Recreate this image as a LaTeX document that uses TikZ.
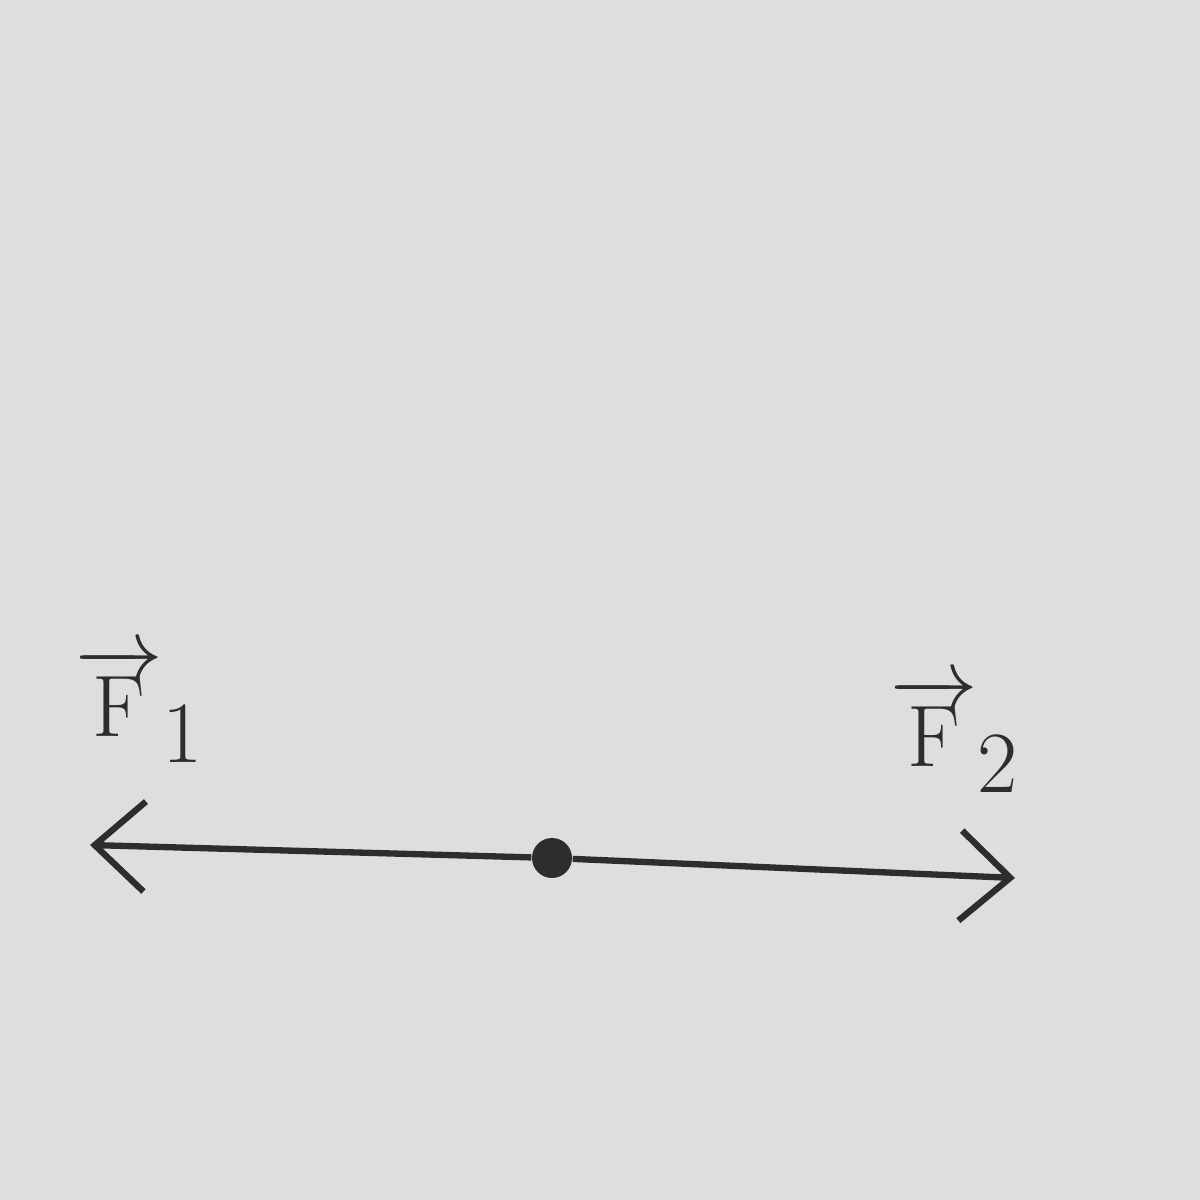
\documentclass[tikz,border=0pt]{standalone}
\usetikzlibrary{arrows.meta}
\definecolor{paper}{RGB}{222,222,220}
\definecolor{pencil}{RGB}{45,45,45}
\begin{document}
\begin{tikzpicture}[x=1cm,y=1cm,
  force/.style={draw=pencil,line width=1.8pt,-{Straight Barb[length=5mm,width=9mm,line width=1.8pt]}},
  lab/.style={text=pencil,font=\fontsize{50}{56}\selectfont,inner sep=0pt}]
\fill[paper] (0,0) rectangle (12,12);
\useasboundingbox (0,0) rectangle (12,12);
\node[circle,fill=pencil,inner sep=0pt,minimum size=4mm] (o) at (5.52,3.42) {};
\coordinate (l) at (0.90,3.55);
\coordinate (r) at (10.15,3.22);
\draw[force] (o) -- (l);
\draw[force] (o) -- (r);
\node[lab] (f1) at (1.40,4.95) {$\overrightarrow{\mathrm{F}}_{1}$};
\node[lab] (f2) at (9.55,4.65) {$\overrightarrow{\mathrm{F}}_{2}$};
\end{tikzpicture}
\end{document}
